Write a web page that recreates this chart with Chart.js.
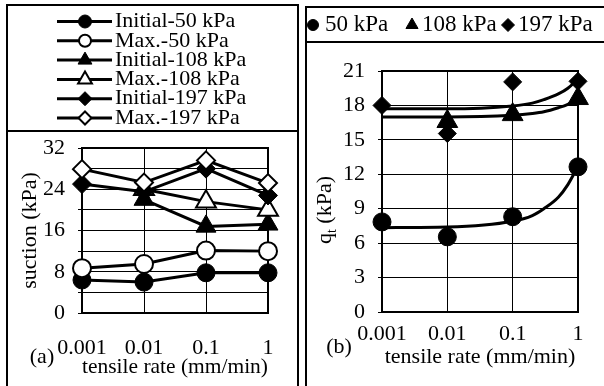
<!DOCTYPE html>
<html>
<head>
<meta charset="utf-8">
<script src="https://cdn.jsdelivr.net/npm/chart.js@4.4.1/dist/chart.umd.min.js"></script>
<style>
    html, body { margin: 0; padding: 0; background: #fff; }
    body { width: 604px; height: 386px; position: relative; overflow: hidden; }
    canvas { position: absolute; top: 0; }
    #suctionChart { left: 0; }
    #strengthChart { left: 300px; }
</style>
</head>
<body>
<canvas id="suctionChart" width="300" height="386"></canvas>
<canvas id="strengthChart" width="304" height="386"></canvas>
<script>
const rates = [0.001, 0.01, 0.1, 1];
const rateLabels = ['0.001', '0.01', '0.1', '1'];

// (a) suction at the start of the test and the peak value
const initial50 = [6.4, 6.0, 7.8, 7.8];
const max50 = [8.7, 9.5, 12.1, 12.0];
const initial108 = [null, 22.0, 16.8, 17.2];
const max108 = [null, 24.0, 21.6, 20.0];
const initial197 = [25.0, 23.5, 28.0, 22.8];
const max197 = [27.9, 25.3, 29.6, 25.2];

// (b) tensile strength
const qt50 = [7.85, 6.55, 8.3, 12.65];
const qt108 = [null, 16.6, 17.2, 18.6];
const qt197 = [18.0, 15.55, 20.05, 20.1];

// trend curves through the qt points
const trendRates = [0.001, 0.01, 0.1, 0.2, 0.3, 0.5, 0.7, 1];
const trend50 = [7.35, 7.4, 7.9, 8.4, 9.0, 10.0, 11.1, 12.7];
const trend108 = [17.0, 17.0, 17.15, 17.3, 17.45, 17.8, 18.1, 18.6];
const trend197 = [17.7, 17.7, 17.95, 18.2, 18.5, 19.0, 19.5, 20.3];

const serif = 'Liberation Serif';
const font = {family: serif, size: 22};
Chart.defaults.font.family = serif;
Chart.defaults.color = '#000';

function xy(xs, ys) {
    return xs.map((x, i) => ({x: x, y: ys[i]}));
}

function markerSeries(label, values, style, filled, radius, order) {
    return {
        label: label,
        data: xy(rates, values),
        borderColor: '#000',
        borderWidth: 3,
        pointStyle: style,
        pointRadius: radius,
        pointBorderWidth: filled ? 1 : 2,
        pointBackgroundColor: filled ? '#000' : '#fff',
        pointBorderColor: '#000',
        clip: false,
        order: order
    };
}

function rateAxis(tickPad, height) {
    return {
        type: 'logarithmic',
        min: 0.001,
        max: 1,
        afterBuildTicks: scale => { scale.ticks = rates.map(v => ({value: v})) },
        afterFit: scale => { scale.height = height },
        ticks: {
            font: font,
            color: '#000',
            padding: tickPad,
            autoSkip: false,
            maxRotation: 0,
            callback: v => rateLabels[rates.indexOf(v)]
        },
        grid: {color: '#000', lineWidth: 1, drawTicks: false},
        border: {color: '#000', width: 2},
        title: {display: true, text: 'tensile rate (mm/min)', font: font, color: '#000', padding: 0}
    };
}

// frame, key and panel letter drawn straight on the canvas
const panelDecor = {
    id: 'panelDecor',
    beforeDatasetsDraw(chart) {
        const a = chart.chartArea;
        const ctx = chart.ctx;
        ctx.save();
        ctx.strokeStyle = '#000';
        ctx.lineWidth = 2;
        ctx.strokeRect(a.left, a.top, a.right - a.left, a.bottom - a.top);
        ctx.restore();
    },
    afterDraw(chart, args, opts) {
        const ctx = chart.ctx;
        const f = opts.frame;
        ctx.save();
        ctx.strokeStyle = '#000';
        ctx.lineWidth = 2;
        ctx.strokeRect(f.left, f.top, f.right - f.left, f.bottom - f.top);
        ctx.beginPath();
        ctx.moveTo(f.left, opts.keyLine);
        ctx.lineTo(f.right, opts.keyLine);
        ctx.stroke();

        ctx.textBaseline = 'middle';
        opts.key.forEach(k => {
            if (k.lineFrom !== undefined) {
                ctx.lineWidth = 3;
                ctx.beginPath();
                ctx.moveTo(k.lineFrom, k.y);
                ctx.lineTo(k.lineTo, k.y);
                ctx.stroke();
            }
            ctx.fillStyle = k.filled ? '#000' : '#fff';
            ctx.lineWidth = k.filled ? 1 : 2;
            Chart.helpers.drawPoint(ctx, {pointStyle: k.style, radius: k.radius, rotation: 0, borderWidth: ctx.lineWidth}, k.markerX, k.y);
            ctx.fillStyle = '#000';
            ctx.textAlign = 'left';
            ctx.font = opts.keySize + 'px "' + serif + '"';
            ctx.fillText(k.text, k.textX, k.y);
        });

        ctx.font = '22px "' + serif + '"';
        ctx.textAlign = 'center';
        ctx.fillText(opts.letter.text, opts.letter.x, opts.letter.y);

        if (opts.qtTitle) {
            // q with subscript t, turned up the axis
            const t = opts.qtTitle;
            ctx.translate(t.x, t.y);
            ctx.rotate(-Math.PI / 2);
            ctx.textAlign = 'left';
            ctx.font = '22px "' + serif + '"';
            const wq = ctx.measureText('q').width;
            const wk = ctx.measureText(' (kPa)').width;
            ctx.font = '14px "' + serif + '"';
            const wt = ctx.measureText('t').width;
            let x = -(wq + wt + wk) / 2;
            ctx.font = '22px "' + serif + '"';
            ctx.fillText('q', x, 0);
            x += wq;
            ctx.font = '14px "' + serif + '"';
            ctx.fillText('t', x, 7);
            x += wt;
            ctx.font = '22px "' + serif + '"';
            ctx.fillText(' (kPa)', x, 0);
        }
        ctx.restore();
    }
};

function suctionChart(id) {
    const key = [
        ['Initial-50 kPa', 'circle', true, 6.5],
        ['Max.-50 kPa', 'circle', false, 6],
        ['Initial-108 kPa', 'triangle', true, 8],
        ['Max.-108 kPa', 'triangle', false, 8],
        ['Initial-197 kPa', 'rectRot', true, 7],
        ['Max.-197 kPa', 'rectRot', false, 6.5]
    ].map((k, i) => ({
        text: k[0], style: k[1], filled: k[2], radius: k[3],
        lineFrom: 57, lineTo: 112, markerX: 85, textX: 115, y: 21.5 + 19.3 * i
    }));

    const config = {
        type: 'line',
        data: {
            datasets: [
                markerSeries('Initial-50 kPa', initial50, 'circle', true, 9, 6),
                markerSeries('Max.-50 kPa', max50, 'circle', false, 9, 5),
                markerSeries('Initial-108 kPa', initial108, 'triangle', true, 11.5, 4),
                markerSeries('Max.-108 kPa', max108, 'triangle', false, 11.5, 3),
                markerSeries('Initial-197 kPa', initial197, 'rectRot', true, 9.5, 2),
                markerSeries('Max.-197 kPa', max197, 'rectRot', false, 9, 1)
            ]
        },
        options: {
            responsive: false,
            devicePixelRatio: 1,
            animation: false,
            layout: {padding: {left: 10, right: 32, top: 148, bottom: 6}},
            plugins: {
                legend: {display: false},
                tooltip: {enabled: false},
                panelDecor: {
                    frame: {left: 7, top: 5, right: 298, bottom: 400},
                    keyLine: 131,
                    key: key,
                    keySize: 22,
                    letter: {text: '(a)', x: 42, y: 357}
                }
            },
            scales: {
                x: rateAxis(22, 67),
                y: {
                    min: 0,
                    max: 32,
                    afterFit: scale => { scale.width = 72 },
                    ticks: {
                        stepSize: 4,
                        font: font,
                        color: '#000',
                        padding: 13,
                        autoSkip: false,
                        callback: v => v % 8 === 0 ? v : ''
                    },
                    grid: {color: '#000', lineWidth: 1, tickLength: 4},
                    border: {color: '#000', width: 2},
                    title: {display: true, text: 'suction (kPa)', font: font, color: '#000', padding: {top: 7, bottom: 0}}
                }
            }
        },
        plugins: [panelDecor]
    };

    new Chart(document.getElementById(id).getContext('2d'), config);
}

function strengthChart(id) {
    const points = (label, values, style, radius) => ({
        label: label,
        data: xy(rates, values),
        showLine: false,
        pointStyle: style,
        pointRadius: radius,
        pointBorderWidth: 1,
        pointBackgroundColor: '#000',
        pointBorderColor: '#000',
        clip: false,
        order: 1
    });
    const trend = (values) => ({
        data: xy(trendRates, values),
        borderColor: '#000',
        borderWidth: 3,
        pointRadius: 0,
        cubicInterpolationMode: 'monotone',
        clip: false,
        order: 2
    });

    const key = [
        {text: '50 kPa', style: 'circle', radius: 5.5, markerX: 13, textX: 25},
        {text: '108 kPa', style: 'triangle', radius: 7, markerX: 112, textX: 122},
        {text: '197 kPa', style: 'rectRot', radius: 6.5, markerX: 208, textX: 218}
    ].map(k => Object.assign(k, {filled: true, y: 25}));

    const config = {
        type: 'line',
        data: {
            datasets: [
                trend(trend50),
                trend(trend108),
                trend(trend197),
                points('50 kPa', qt50, 'circle', 9),
                points('108 kPa', qt108, 'triangle', 12),
                points('197 kPa', qt197, 'rectRot', 9)
            ]
        },
        options: {
            responsive: false,
            devicePixelRatio: 1,
            animation: false,
            layout: {padding: {left: 10, right: 26, top: 71, bottom: 16}},
            plugins: {
                legend: {display: false},
                tooltip: {enabled: false},
                panelDecor: {
                    frame: {left: 6, top: 7, right: 320, bottom: 400},
                    keyLine: 42,
                    key: key,
                    keySize: 23,
                    letter: {text: '(b)', x: 39, y: 347},
                    qtTitle: {x: 25, y: 210}
                }
            },
            scales: {
                x: rateAxis(9, 58),
                y: {
                    min: 0,
                    max: 21,
                    afterFit: scale => { scale.width = 72 },
                    ticks: {
                        stepSize: 3,
                        font: font,
                        color: '#000',
                        padding: 13,
                        autoSkip: false
                    },
                    grid: {color: '#000', lineWidth: 1, tickLength: 4},
                    border: {color: '#000', width: 2}
                }
            }
        },
        plugins: [panelDecor]
    };

    new Chart(document.getElementById(id).getContext('2d'), config);
}

suctionChart('suctionChart');
strengthChart('strengthChart');
</script>
</body>
</html>
